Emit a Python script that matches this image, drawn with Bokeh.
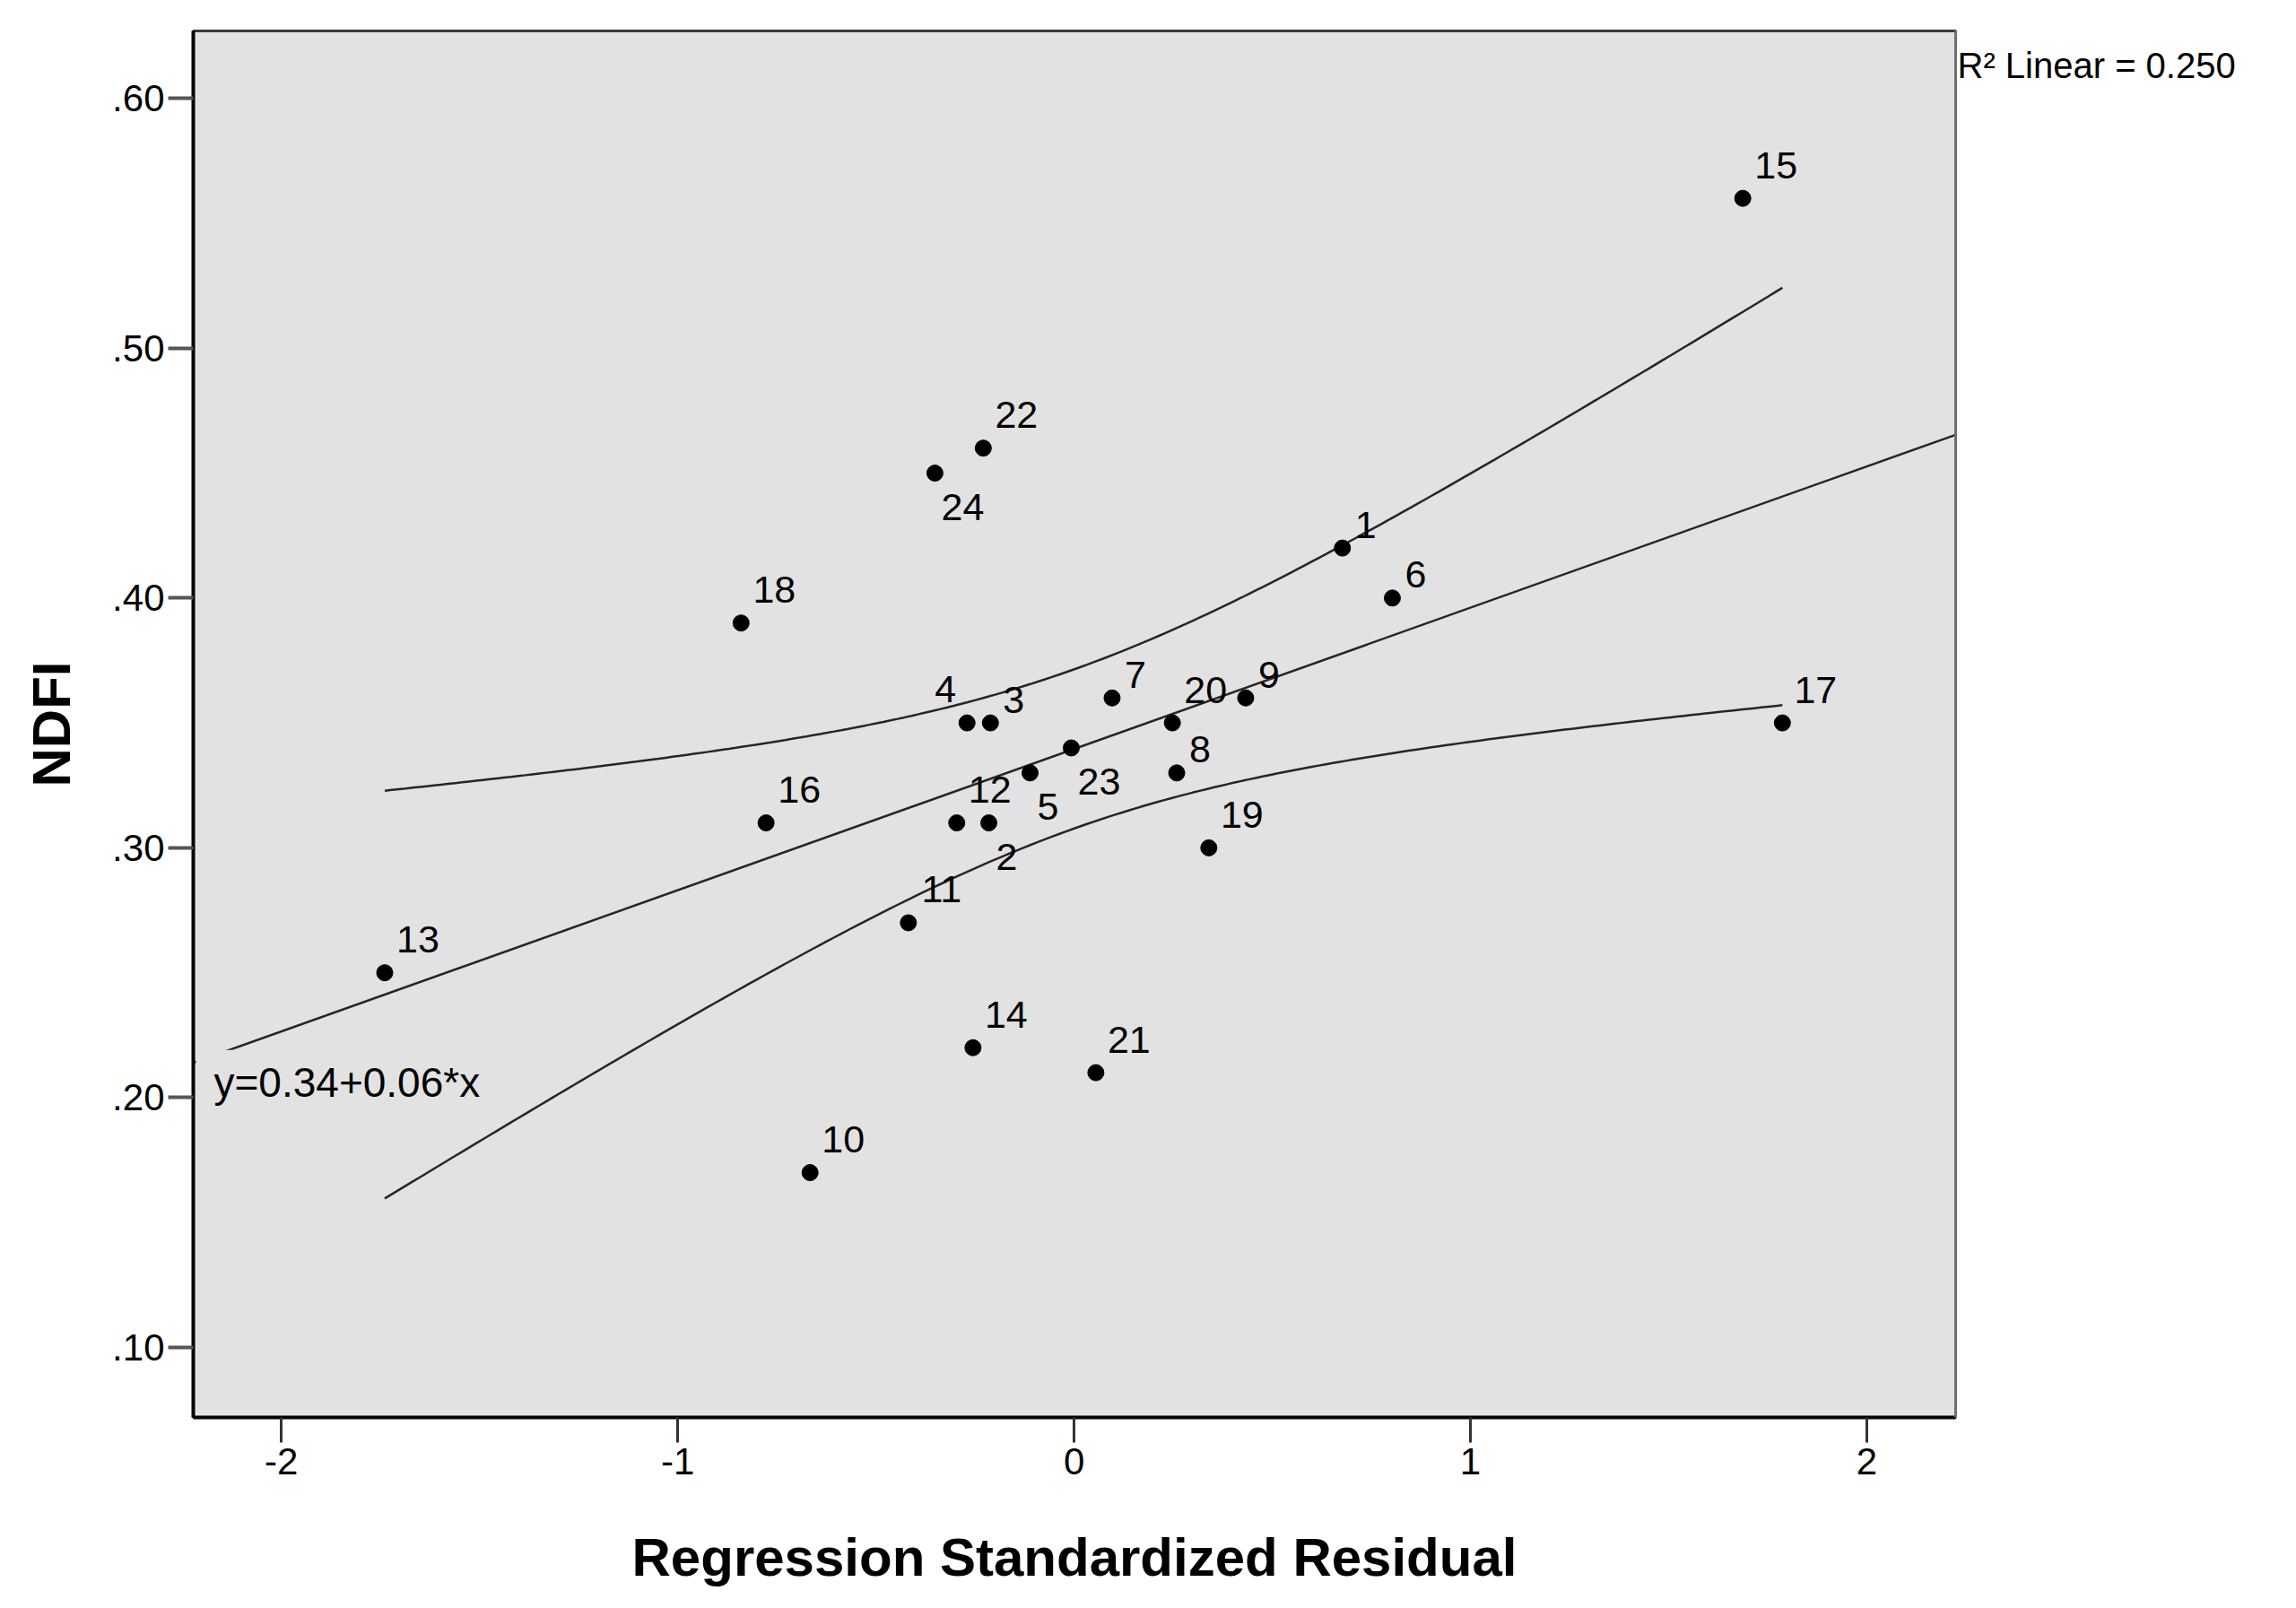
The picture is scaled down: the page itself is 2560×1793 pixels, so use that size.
import numpy as np
from bokeh.plotting import figure
from bokeh.models import Range1d, FixedTicker, Label, ColumnDataSource, LinearAxis
from bokeh.embed import file_html
from bokeh.resources import INLINE
from bokeh.core.properties import value

# ---------------- data ----------------
case_ids = ["1", "2", "3", "4", "5", "6", "7", "8", "9", "10", "11", "12",
            "13", "14", "15", "16", "17", "18", "19", "20", "21", "22", "23", "24"]
std_resid = [0.677, -0.215, -0.211, -0.270, -0.111, 0.803, 0.096, 0.259, 0.433, -0.666, -0.418, -0.296,
             -1.739, -0.255, 1.687, -0.777, 1.787, -0.840, 0.340, 0.248, 0.055, -0.229, -0.007, -0.351]
ndfi = [0.42, 0.31, 0.35, 0.35, 0.33, 0.40, 0.36, 0.33, 0.36, 0.17, 0.27, 0.31,
        0.25, 0.22, 0.56, 0.31, 0.35, 0.39, 0.30, 0.35, 0.21, 0.46, 0.34, 0.45]

x_ticks = [-2, -1, 0, 1, 2]
x_tick_labels = ["-2", "-1", "0", "1", "2"]
y_ticks = [0.1, 0.2, 0.3, 0.4, 0.5, 0.6]
y_tick_labels = [".10", ".20", ".30", ".40", ".50", ".60"]

x_title = "Regression Standardized Residual"
y_title = "NDFI"
r2_text = "R\u00b2 Linear = 0.250"
eq_text = "y=0.34+0.06*x"
T_CRIT = 2.074  # t(0.975, df=22) for the 95% mean confidence band

# label placement for the case numbers (ur = upper right, dr = lower right, ul = upper left)
placement = {"24": "dr", "23": "dr", "5": "dr", "2": "dr", "4": "ul"}

# ---------------- styling ----------------
FONT = "Liberation Sans"
BG = "#e2e2e2"
LINE = "#262626"
X_LO, X_HI = -2.222, 2.224
Y_LO, Y_HI = 0.072, 0.627
R2_Y = 0.6133   # vertical anchor of the R² note (right of the frame)
EQ_Y = 0.206    # vertical anchor of the equation note

# ---------------- regression from the data ----------------
xa = np.array(std_resid)
ya = np.array(ndfi)
n = len(xa)
slope, intercept = np.polyfit(xa, ya, 1)
resid = ya - (intercept + slope * xa)
s = np.sqrt(np.sum(resid ** 2) / (n - 2))
sxx = np.sum((xa - xa.mean()) ** 2)

fit_x = np.array([X_LO, X_HI])
fit_y = intercept + slope * fit_x

band_x = np.linspace(xa.min(), xa.max(), 200)
band_c = intercept + slope * band_x
hw = T_CRIT * s * np.sqrt(1.0 / n + (band_x - xa.mean()) ** 2 / sxx)

# ---------------- figure ----------------
p = figure(frame_width=1965, frame_height=1546,
           x_range=Range1d(X_LO, X_HI), y_range=Range1d(Y_LO, Y_HI),
           output_backend="svg", toolbar_location=None,
           min_border_left=215, min_border_right=360, min_border_top=34, min_border_bottom=200,
           background_fill_color=BG, border_fill_color="white")
p.grid.visible = False
p.outline_line_color = "#3a3a3a"
p.outline_line_width = 3

for ax in (p.xaxis[0], p.yaxis[0]):
    ax.axis_line_color = "black"
    ax.axis_line_width = 4
    ax.minor_tick_line_color = None
    ax.major_tick_in = 0
    ax.major_tick_out = 28
    ax.major_label_text_font = FONT
    ax.major_label_text_font_size = "42px"
    ax.major_label_text_color = "black"
    ax.axis_label_text_font = FONT
    ax.axis_label_text_font_size = "60px"
    ax.axis_label_text_font_style = "bold"
    ax.axis_label_text_color = "black"

p.xaxis.ticker = FixedTicker(ticks=x_ticks)
p.xaxis.major_label_overrides = {t: l for t, l in zip(x_ticks, x_tick_labels)}
p.xaxis.major_tick_line_width = 3
p.xaxis.major_tick_line_color = "#333333"
p.xaxis.major_label_standoff = 6
p.xaxis.axis_label = x_title
p.xaxis.axis_label_standoff = 56

p.yaxis.ticker = FixedTicker(ticks=y_ticks)
p.yaxis.major_label_overrides = {t: l for t, l in zip(y_ticks, y_tick_labels)}
p.yaxis.major_tick_line_width = 4
p.yaxis.major_tick_line_color = "#555555"
p.yaxis.major_label_standoff = 4
p.yaxis.axis_label = y_title
p.yaxis.axis_label_standoff = 31

# R^2 note to the right of the frame (drawn as the single label of a bare right axis)
r_ax = LinearAxis(ticker=FixedTicker(ticks=[R2_Y]),
                  major_label_overrides={R2_Y: r2_text},
                  axis_line_color="#6e6e6e", axis_line_width=3,
                  major_tick_line_color=None, minor_tick_line_color=None,
                  major_tick_in=0, major_tick_out=0, major_label_standoff=2,
                  major_label_text_font=FONT, major_label_text_font_size="40px",
                  major_label_text_color="black")
p.add_layout(r_ax, "right")

# fit line and confidence band
p.line(fit_x, fit_y, line_color=LINE, line_width=2.5)
p.line(band_x, band_c + hw, line_color=LINE, line_width=2.5)
p.line(band_x, band_c - hw, line_color=LINE, line_width=2.5)

# points
p.scatter(std_resid, ndfi, size=18, fill_color="black", line_color="black")

# case labels
dx, dy = [], []
for cid in case_ids:
    k = len(cid)
    pos = placement.get(cid, "ur")
    if pos == "ur":
        dx.append(4 + 11 * k + 11); dy.append(-(15 + 11 * k))
    elif pos == "dr":
        dx.append(9 + 11 * k); dy.append(38)
    else:
        dx.append(-(13 + 11 * k)); dy.append(-38)
src = ColumnDataSource(dict(x=std_resid, y=ndfi, t=case_ids, dx=dx, dy=dy))
p.text(x="x", y="y", text="t", x_offset="dx", y_offset="dy", source=src,
       text_align="center", text_baseline="middle",
       text_font=value(FONT), text_font_size=value("43px"), text_color="black")

# equation label (opaque box, as in the original)
p.add_layout(Label(x=X_LO, y=EQ_Y, x_offset=3, text=eq_text,
                   text_align="left", text_baseline="middle",
                   text_font=FONT, text_font_size="46px", text_color="black",
                   background_fill_color=BG, padding=(20, 10, 10, 11)))

open("out.html", "w").write(file_html(p, INLINE))
